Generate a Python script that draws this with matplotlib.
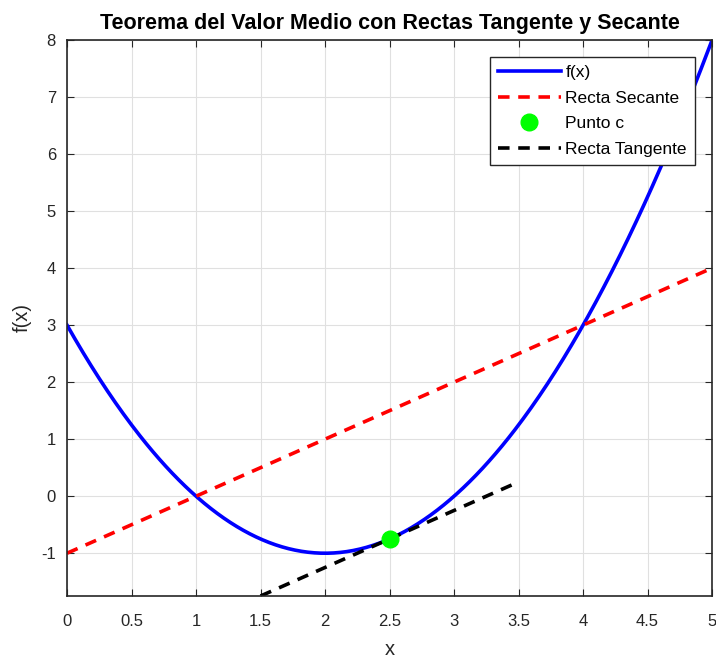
import numpy as np
import matplotlib.pyplot as plt

plt.rcParams['font.family'] = ['Liberation Sans', 'DejaVu Sans']
plt.rcParams['axes.unicode_minus'] = False

# f(x) = x^2 - 4x + 3 on [0, 5]
coef = [1, -4, 3]
x_range = [0, 5]

# secant through the end points
secant_x = [0, 5]
secant_y = [-1, 4]

# point c and tangent line there
c_x = 2.5
c_y = -0.75
tangent_x = [1.5, 3.5]
tangent_y = [-1.75, 0.25]

xticks = [0, 0.5, 1, 1.5, 2, 2.5, 3, 3.5, 4, 4.5, 5]
yticks = [-1, 0, 1, 2, 3, 4, 5, 6, 7, 8]

fig = plt.figure(figsize=(7.16, 6.62), dpi=100)
ax = fig.add_axes([0.0936, 0.0997, 0.901, 0.840])

dash = (0, (3.2, 2.4))
xs = np.linspace(x_range[0], x_range[1], 400)
ax.plot(xs, np.polyval(coef, xs), color='#0000ff', lw=2.6, label='f(x)')
ax.plot(secant_x, secant_y, color='#ff0000', lw=2.6, ls=dash, label='Recta Secante')
ax.plot([c_x], [c_y], 'o', color='#00ff00', ms=12, ls='none', label='Punto c', zorder=5)
ax.plot(tangent_x, tangent_y, color='black', lw=2.6, ls=dash, label='Recta Tangente')

ax.set_xlim(0, 5)
ax.set_ylim(-1.75, 8)
ax.set_xticks(xticks)
ax.set_xticklabels([f'{t:g}' for t in xticks])
ax.set_yticks(yticks)
ax.grid(True, color='#e0e0e0', lw=0.8)
ax.set_axisbelow(True)
ax.tick_params(direction='in', top=True, right=True, labelsize=12, colors='#262626', length=5)
ax.tick_params(axis='x', pad=13)
ax.tick_params(axis='y', pad=8)
for s in ax.spines.values():
    s.set_color('#262626')
    s.set_linewidth(1.2)

ax.set_xlabel('x', fontsize=14.5, color='#262626', labelpad=8)
ax.set_ylabel('f(x)', fontsize=14.5, color='#262626', labelpad=7)
ax.set_title('Teorema del Valor Medio con Rectas Tangente y Secante',
             fontsize=15.5, fontweight='bold', color='black', pad=8)

leg = ax.legend(loc='upper right', fontsize=12.5, frameon=True, fancybox=False,
                edgecolor='#262626', framealpha=1, borderaxespad=1.0,
                handlelength=3.6, handletextpad=0.28, labelspacing=0.6,
                borderpad=0.45)
leg.get_frame().set_linewidth(1.0)

fig.savefig('out.png', dpi=100)
